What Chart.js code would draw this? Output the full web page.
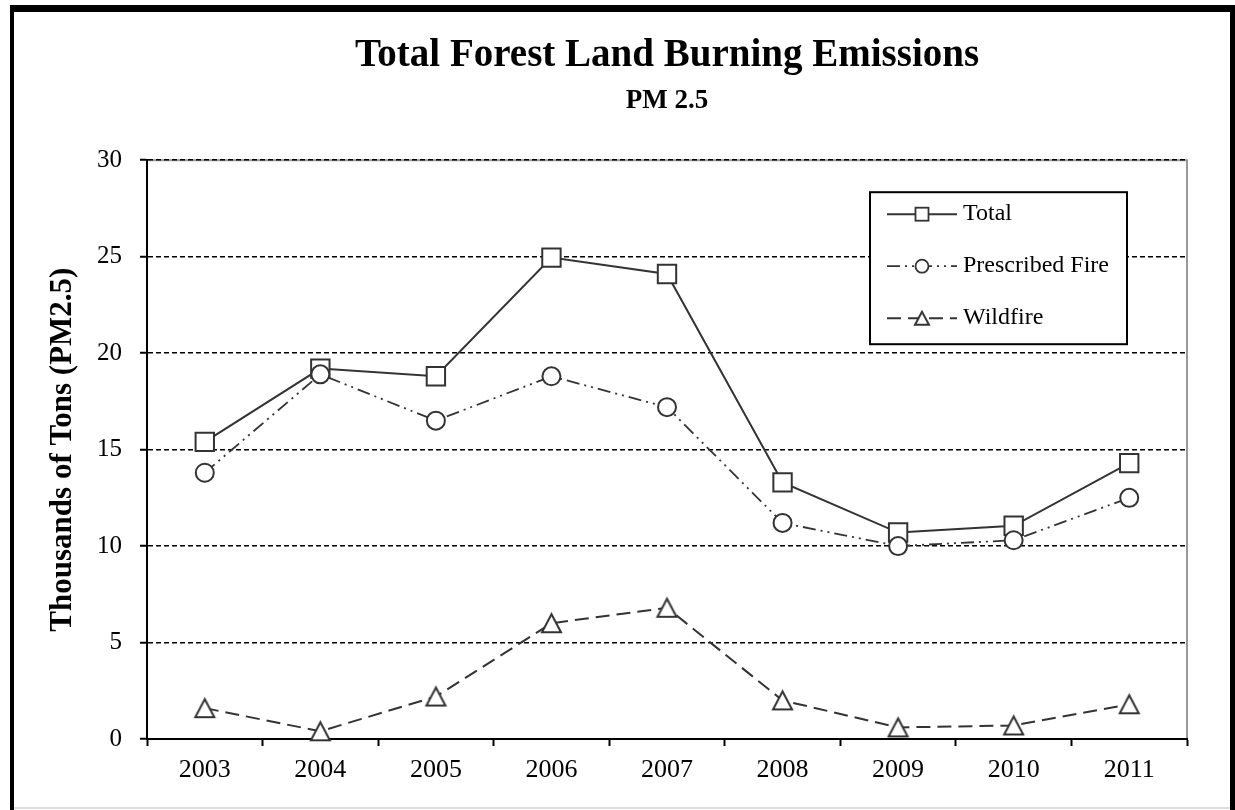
<!DOCTYPE html>
<html>
<head>
<meta charset="utf-8">
<script src="https://cdn.jsdelivr.net/npm/chart.js@4/dist/chart.umd.min.js"></script>
<style>
  html, body { margin: 0; padding: 0; background: #fff; overflow: hidden; }
  #frame {
    position: absolute; left: 10px; top: 5px; width: 1216px; height: 798px;
    border-top: 7px solid #000; border-left: 4px solid #000; border-right: 5px solid #000;
  }
  #baseline { position: absolute; left: 14px; top: 807px; width: 1216px; height: 2px; background: #ddd; }
  #chart { position: absolute; left: 0; top: 0; }
</style>
</head>
<body>
<div id="frame"></div>
<div id="baseline"></div>
<canvas id="chart" width="1235" height="810"></canvas>
<script>
const years = ["2003", "2004", "2005", "2006", "2007", "2008", "2009", "2010", "2011"];
const totalValues = [15.4, 19.2, 18.8, 24.95, 24.1, 13.3, 10.7, 11.05, 14.3];
const prescribedValues = [13.8, 18.9, 16.5, 18.8, 17.2, 11.2, 10.0, 10.3, 12.5];
const wildfireValues = [1.6, 0.4, 2.2, 6.0, 6.8, 2.0, 0.6, 0.7, 1.8];
const yMin = 0;
const yMax = 30;
const yStep = 5;

const serif = "'Liberation Serif', 'Times New Roman', serif";
const ink = "#333";

// Excel style triangle: centred on its bounding box, not its centroid
function makeTriangle(w, h) {
  const c = document.createElement("canvas");
  c.width = w + 6;
  c.height = h + 6;
  const g = c.getContext("2d");
  g.beginPath();
  g.moveTo(c.width / 2, 3);
  g.lineTo(3, h + 3);
  g.lineTo(w + 3, h + 3);
  g.closePath();
  g.fillStyle = "#fff";
  g.fill();
  g.lineWidth = 2;
  g.strokeStyle = ink;
  g.stroke();
  return c;
}
const triangle = makeTriangle(19, 18);
const smallTriangle = makeTriangle(14, 13);

const series = [
  { label: "Total", data: totalValues, dash: [], width: 2, style: "rect", radius: 13 },
  { label: "Prescribed Fire", data: prescribedValues, dash: [13, 5, 2, 5, 2, 5], width: 1.8, style: "circle", radius: 9 },
  { label: "Wildfire", data: wildfireValues, dash: [14, 7], width: 2, style: triangle, radius: 10 },
];

const plotFrame = {
  id: "plotFrame",
  beforeDraw(chart) {
    const { ctx, chartArea: a } = chart;
    ctx.save();
    ctx.strokeStyle = "#999";
    ctx.lineWidth = 2;
    ctx.beginPath();
    ctx.moveTo(a.left, a.top);
    ctx.lineTo(a.right, a.top);
    ctx.lineTo(a.right, a.bottom);
    ctx.stroke();
    ctx.restore();
  },
};

const boxLegend = {
  id: "boxLegend",
  afterDatasetsDraw(chart) {
    const { ctx, chartArea: a } = chart;
    const left = a.right - 317;
    const right = a.right - 60;
    const top = a.top + 32;
    const bottom = a.top + 184;
    ctx.save();
    ctx.fillStyle = "#fff";
    ctx.fillRect(left, top, right - left, bottom - top);
    ctx.strokeStyle = "#000";
    ctx.lineWidth = 2;
    ctx.strokeRect(left, top, right - left, bottom - top);

    series.forEach((s, i) => {
      const y = top + 22 + i * 52;
      const x0 = left + 17;
      const x1 = left + 87;
      const mid = (x0 + x1) / 2;
      ctx.setLineDash(s.dash);
      ctx.strokeStyle = ink;
      ctx.lineWidth = s.width;
      ctx.beginPath();
      ctx.moveTo(x0, y);
      ctx.lineTo(x1, y);
      ctx.stroke();
      ctx.setLineDash([]);
      ctx.fillStyle = "#fff";
      ctx.strokeStyle = ink;
      ctx.lineWidth = 1.8;
      if (s.style === "rect") {
        ctx.fillRect(mid - 6.5, y - 6.5, 13, 13);
        ctx.strokeRect(mid - 6.5, y - 6.5, 13, 13);
      } else if (s.style === "circle") {
        ctx.beginPath();
        ctx.arc(mid, y, 6.5, 0, Math.PI * 2);
        ctx.fill();
        ctx.stroke();
      } else {
        ctx.drawImage(smallTriangle, mid - smallTriangle.width / 2, y - smallTriangle.height / 2);
      }
      ctx.fillStyle = "#000";
      ctx.font = "24px " + serif;
      ctx.textAlign = "left";
      ctx.textBaseline = "middle";
      ctx.fillText(s.label, left + 93, y);
    });
    ctx.restore();
  },
};

new Chart(document.getElementById("chart"), {
  type: "line",
  data: {
    labels: years,
    datasets: series.map((s, i) => ({
      label: s.label,
      data: s.data,
      order: series.length - i,
      borderColor: ink,
      borderWidth: s.width,
      borderDash: s.dash,
      tension: 0,
      fill: false,
      clip: false,
      pointStyle: s.style,
      pointRadius: s.radius,
      pointBorderWidth: 2,
      pointBorderColor: ink,
      pointBackgroundColor: "#fff",
    })),
  },
  options: {
    responsive: false,
    animation: false,
    events: [],
    layout: { padding: { left: 0, right: 48, top: 0, bottom: 0 } },
    plugins: {
      legend: { display: false },
      tooltip: { enabled: false },
      title: {
        display: true,
        fullSize: false,
        text: "Total Forest Land Burning Emissions",
        color: "#000",
        font: { family: serif, size: 39, weight: "bold" },
        padding: { top: 33, bottom: 4 },
      },
      subtitle: {
        display: true,
        fullSize: false,
        text: "PM 2.5",
        color: "#000",
        font: { family: serif, size: 27, weight: "bold" },
        padding: { top: 1, bottom: 43 },
      },
    },
    scales: {
      x: {
        offset: true,
        afterFit(scale) { scale.height = 71; },
        grid: {
          offset: true,
          drawOnChartArea: false,
          drawTicks: true,
          tickLength: 7,
          tickColor: "#000",
          tickWidth: 2,
        },
        border: { display: true, color: "#000", width: 2 },
        ticks: { color: "#000", padding: 9, font: { family: serif, size: 26 } },
      },
      y: {
        min: yMin,
        max: yMax,
        afterFit(scale) { scale.width = 147; },
        grid: {
          color: "#000",
          lineWidth: 1.5,
          drawTicks: true,
          tickLength: 7,
          tickColor: "#000",
          tickWidth: 2,
          tickBorderDash: [],
        },
        border: { display: true, color: "#000", width: 2, dash: [5, 3] },
        ticks: { stepSize: yStep, color: "#000", padding: 18, font: { family: serif, size: 25 } },
        title: {
          display: true,
          text: "Thousands of Tons (PM2.5)",
          color: "#000",
          font: { family: serif, size: 31, weight: "bold" },
          padding: { top: 44, bottom: 0 },
        },
      },
    },
  },
  plugins: [plotFrame, boxLegend],
});
</script>
</body>
</html>
